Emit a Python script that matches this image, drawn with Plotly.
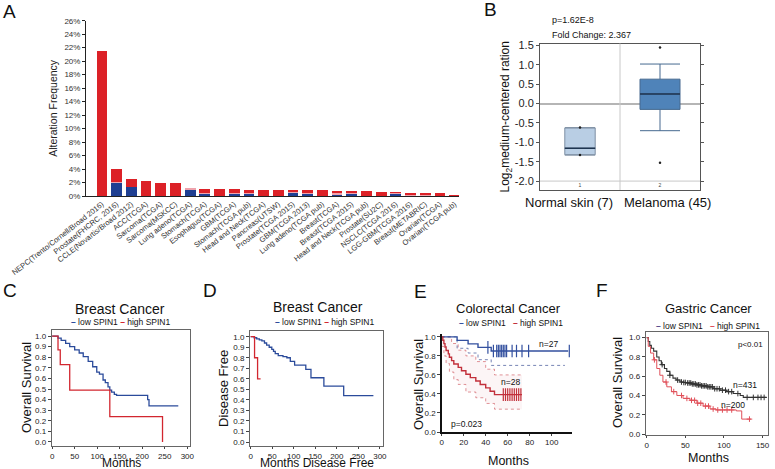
import numpy as np
import plotly.graph_objects as go

W, H = 775, 469
FONT = "Arial, Liberation Sans, sans-serif"


def px(x):
    return x / W


def py(y):
    return 1 - y / H


# ---------------- Panel A data ----------------
studies = [
    "NEPC(Trento/Cornell/Broad 2016)", "Prostate(FHCRC, 2016)", "CCLE(Novartis/Broad 2012)",
    "ACC(TCGA)", "Sarcoma(TCGA)", "Sarcoma(MSKCC)", "Lung adeno(TCGA)", "Stomach(TCGA)",
    "Esophagus(TCGA)", "GBM(TCGA)", "Stomach(TCGA pub)", "Head and Neck(TCGA)",
    "Pancreas(UTSW)", "Prostate(TCGA 2015)", "GBM(TCGA 2013)", "Lung adeno(TCGA pub)",
    "Breast(TCGA)", "Breast(TCGA 2015)", "Head and Neck(TCGA pub)", "Prostate(SU2C)",
    "NSCLC(TCGA 2016)", "LGG-GBM(TCGA 2016)", "Breast(METABRIC)", "Ovarian(TCGA)",
    "Ovarian(TCGA pub)",
]
deletion = [0, 2.0, 1.3, 0, 0, 0, 0.95, 0.35, 0, 0.3, 0.3, 0, 0, 0.5, 0.3, 0, 0.1, 0.3,
            0, 0, 0.3, 0, 0, 0, 0]
multiple = [0, 0.1, 0.1, 0, 0, 0, 0.25, 0.1, 0, 0.15, 0.1, 0, 0, 0.1, 0.1, 0, 0.3, 0.1,
            0, 0, 0.2, 0.15, 0.15, 0, 0]
amplification = [21.5, 1.9, 1.1, 2.2, 1.9, 1.9, 0.0, 0.6, 1.05, 0.55, 0.55, 0.9, 0.88,
                 0.28, 0.45, 0.82, 0.38, 0.35, 0.68, 0.62, 0.1, 0.35, 0.32, 0.42, 0.15]
a_ticks = list(range(0, 27, 2))

# ---------------- Panel B data ----------------
box_groups = ["Normal skin (7)", "Melanoma (45)"]
box_pos = [1, 2]
box_q1 = [-1.32, -0.15]
box_median = [-1.15, 0.25]
box_q3 = [-0.63, 0.63]
box_low = [-1.33, -0.70]
box_high = [-0.62, 1.02]
box_width = [0.38, 0.5]
box_points_x = [1, 1, 2, 2]
box_points_y = [-0.62, -1.33, 1.45, -1.53]
b_ticks = [-2.0, -1.5, -1.0, -0.5, 0.0, 0.5, 1.0, 1.5]

# ---------------- Panel C data (Breast, OS) ----------------
c_low_t = [0, 13, 20, 30, 39, 50, 60, 69, 80, 90, 99, 105, 113, 118, 124, 128, 132, 138,
           143, 210, 212, 215, 280]
c_low_s = [1.0, 0.98, 0.96, 0.93, 0.90, 0.87, 0.84, 0.805, 0.76, 0.71, 0.66, 0.64, 0.585,
           0.56, 0.52, 0.49, 0.47, 0.45, 0.44, 0.44, 0.40, 0.34, 0.34]
c_high_t = [0, 13, 18, 39, 128, 245]
c_high_s = [1.0, 0.87, 0.73, 0.49, 0.24, 0.0]

# ---------------- Panel D data (Breast, DFS) ----------------
d_low_t = [0, 8, 14, 20, 26, 32, 37, 43, 49, 53, 57, 64, 75, 84, 92, 102, 128, 140, 170,
           216, 285]
d_low_s = [1.0, 0.99, 0.98, 0.97, 0.96, 0.94, 0.92, 0.90, 0.88, 0.86, 0.84, 0.82, 0.81,
           0.80, 0.765, 0.73, 0.69, 0.61, 0.53, 0.44, 0.44]
d_high_t = [0, 9, 16, 23]
d_high_s = [1.0, 0.8, 0.6, 0.6]

# ---------------- Panel E data (Colorectal) ----------------
e_low_t = [0, 14, 24, 33, 45, 115]
e_low_s = [1.0, 0.963, 0.926, 0.889, 0.852, 0.852]
e_low_cens = [42, 47, 50, 51.5, 53, 54.5, 56, 57.5, 59, 64, 68, 73, 79, 116]
e_low_ci_t = [0, 14, 24, 33, 45, 112]
e_low_ci_s = [1.0, 0.88, 0.83, 0.76, 0.70, 0.70]
e_high_t = [0, 1, 2, 3, 4, 6, 7, 9, 11, 15, 18, 22, 26, 31, 35, 40, 44, 48, 73]
e_high_s = [1.0, 0.964, 0.929, 0.893, 0.857, 0.821, 0.786, 0.750, 0.714, 0.679, 0.643,
            0.607, 0.571, 0.536, 0.500, 0.464, 0.429, 0.393, 0.393]
e_high_cens = [56, 58, 60, 62, 64, 66, 68, 70, 72]
e_high_up_t = [0, 4, 9, 15, 22, 31, 40, 48, 73]
e_high_up_s = [1.0, 1.0, 0.93, 0.86, 0.80, 0.74, 0.66, 0.60, 0.60]
e_high_lo_t = [0, 2, 4, 7, 11, 15, 22, 31, 40, 48, 73]
e_high_lo_s = [0.9, 0.8, 0.72, 0.63, 0.55, 0.50, 0.42, 0.36, 0.30, 0.24, 0.24]

# ---------------- Panel F data (Gastric) ----------------
f_low_t = [0, 2, 4, 6, 9, 13, 16, 19, 23, 26, 30, 34, 38, 43, 48, 52, 58, 65, 71, 78,
           86, 95, 103, 112, 121, 125, 155]
f_low_s = [1.0, 0.96, 0.92, 0.89, 0.86, 0.80, 0.76, 0.72, 0.68, 0.65, 0.61, 0.58, 0.56,
           0.54, 0.535, 0.53, 0.52, 0.51, 0.50, 0.49, 0.47, 0.455, 0.44, 0.42, 0.40, 0.38,
           0.38]
f_low_cens = [20, 30, 40, 45, 48, 50, 53, 55, 57, 59, 61, 63, 65, 67, 69, 71, 73, 75, 77,
              79, 81, 83, 85, 88, 91, 94, 98, 102, 106, 110, 118, 130, 138, 144, 148, 152]
f_high_t = [0, 2, 5, 9, 13, 17, 21, 26, 32, 39, 47, 56, 65, 73, 82, 90, 116, 123, 135]
f_high_s = [1.0, 0.91, 0.84, 0.77, 0.68, 0.61, 0.54, 0.49, 0.44, 0.40, 0.37, 0.35, 0.32,
            0.29, 0.26, 0.25, 0.24, 0.155, 0.155]
f_high_cens = [10, 25, 35, 45, 52, 58, 62, 66, 70, 76, 80, 86, 92, 98, 104, 110, 133]

BLUE = "#2b4b9b"
RED = "#d2262f"

fig = go.Figure()

# ---------------- Panel A traces ----------------
fig.add_trace(go.Bar(x=studies, y=deletion, marker=dict(color="#1f3f92", line=dict(width=0)),
                     xaxis="x", yaxis="y", showlegend=False))
fig.add_trace(go.Bar(x=studies, y=multiple, marker=dict(color="#eea3ad", line=dict(width=0)),
                     xaxis="x", yaxis="y", showlegend=False))
fig.add_trace(go.Bar(x=studies, y=amplification, marker=dict(color="#dc2127", line=dict(width=0)),
                     xaxis="x", yaxis="y", showlegend=False))

# ---------------- Panel B traces ----------------
box_fill = ["#b9cee4", "#4f83b9"]
box_line = ["#7d8fa3", "#46698f"]
for i in range(2):
    fig.add_trace(go.Box(x=[box_pos[i]], q1=[box_q1[i]], median=[box_median[i]],
                         q3=[box_q3[i]], lowerfence=[box_low[i]], upperfence=[box_high[i]],
                         width=box_width[i], whiskerwidth=1, fillcolor=box_fill[i],
                         line=dict(color=box_line[i], width=1), boxpoints=False,
                         xaxis="x2", yaxis="y2", showlegend=False, hoverinfo="skip"))
    fig.add_trace(go.Scatter(x=[box_pos[i] - box_width[i] / 2, box_pos[i] + box_width[i] / 2],
                             y=[box_median[i], box_median[i]], mode="lines",
                             line=dict(color="#1e3550", width=1.5), xaxis="x2", yaxis="y2",
                             showlegend=False, hoverinfo="skip"))
fig.add_trace(go.Scatter(x=box_points_x, y=box_points_y, mode="markers",
                         marker=dict(color="#222", size=2.5), xaxis="x2", yaxis="y2",
                         showlegend=False))


def step_at(ts, ss, q):
    idx = np.searchsorted(np.array(ts), np.array(q), side="right") - 1
    return list(np.array(ss)[idx])


def km(t, s, color, xa, ya, width=1.3, dash=None):
    fig.add_trace(go.Scatter(x=t, y=s, mode="lines", line=dict(color=color, width=width,
                                                                 shape="hv", dash=dash),
                             xaxis=xa, yaxis=ya, showlegend=False, hoverinfo="skip"))


# C
km(c_low_t, c_low_s, BLUE, "x3", "y3")
km(c_high_t, c_high_s, RED, "x3", "y3")
# D
km(d_low_t, d_low_s, BLUE, "x4", "y4")
km(d_high_t, d_high_s, RED, "x4", "y4")
# E
fig.add_trace(go.Scatter(x=e_high_lo_t, y=e_high_lo_s, mode="lines",
                         line=dict(color="rgba(200,60,70,0.55)", width=1, shape="hv", dash="dot"),
                         xaxis="x5", yaxis="y5", showlegend=False))
fig.add_trace(go.Scatter(x=e_high_up_t, y=e_high_up_s, mode="lines",
                         line=dict(color="rgba(200,60,70,0.55)", width=1, shape="hv", dash="dot"),
                         fill="tonexty", fillcolor="rgba(220,130,140,0.08)",
                         xaxis="x5", yaxis="y5", showlegend=False))
km(e_low_ci_t, e_low_ci_s, "rgba(60,80,150,0.7)", "x5", "y5", width=1, dash="dot")
km(e_low_t, e_low_s, "#33509f", "x5", "y5", width=1.4)
km(e_high_t, e_high_s, "#c2303b", "x5", "y5", width=1.4)
fig.add_trace(go.Scatter(x=e_low_cens, y=step_at(e_low_t, e_low_s, e_low_cens), mode="markers",
                         marker=dict(symbol="line-ns", size=9, line=dict(color="#33509f", width=1.2)),
                         xaxis="x5", yaxis="y5", showlegend=False))
fig.add_trace(go.Scatter(x=e_high_cens, y=step_at(e_high_t, e_high_s, e_high_cens), mode="markers",
                         marker=dict(symbol="line-ns", size=9, line=dict(color="#c2303b", width=1.2)),
                         xaxis="x5", yaxis="y5", showlegend=False))
# F
km(f_low_t, f_low_s, "#333333", "x6", "y6", width=1.1)
km(f_high_t, f_high_s, "#e0505a", "x6", "y6", width=1)
fig.add_trace(go.Scatter(x=f_low_cens, y=step_at(f_low_t, f_low_s, f_low_cens), mode="markers",
                         marker=dict(symbol="cross-thin", size=4, line=dict(color="#333", width=1)),
                         xaxis="x6", yaxis="y6", showlegend=False))
fig.add_trace(go.Scatter(x=f_high_cens, y=step_at(f_high_t, f_high_s, f_high_cens), mode="markers",
                         marker=dict(symbol="cross-thin", size=4, line=dict(color="#e0505a", width=1)),
                         xaxis="x6", yaxis="y6", showlegend=False))

# ---------------- Axes ----------------
tick_font = dict(family=FONT, size=8, color="#222")
layout_axes = {}

layout_axes["xaxis"] = dict(domain=[px(86), px(459)], anchor="y", range=[-1.09, 24.3],
                            tickangle=-38, tickfont=dict(family=FONT, size=7.5, color="#333"),
                            showline=True, linecolor="#222", linewidth=1, ticks="",
                            showgrid=False, zeroline=False, automargin=False)
layout_axes["yaxis"] = dict(domain=[py(196), py(20.7)], anchor="x", range=[0, 26],
                            tickvals=a_ticks, ticktext=[f"{v}%" for v in a_ticks],
                            tickfont=dict(family=FONT, size=8, color="#333"),
                            showline=True, linecolor="#222", linewidth=1, ticks="outside",
                            ticklen=3, tickcolor="#222", showgrid=False, zeroline=False,
                            automargin=False,
                            title=dict(text="Alteration Frequency",
                                       font=dict(family=FONT, size=10.5, color="#222"),
                                       standoff=4))

layout_axes["xaxis2"] = dict(domain=[px(540), px(700)], anchor="y2", range=[0.5, 2.5],
                             tickvals=box_pos, ticktext=["1", "2"], ticklabelposition="inside",
                             tickfont=dict(family=FONT, size=5, color="#444"), ticks="",
                             showline=True, mirror=True, linecolor="#555", linewidth=1,
                             showgrid=False, zeroline=False, automargin=False)
layout_axes["yaxis2"] = dict(domain=[py(190), py(43.5)], anchor="x2", range=[-2.23, 1.55],
                             tickvals=b_ticks, ticktext=[f"{v:.1f}" for v in b_ticks],
                             tickfont=dict(family=FONT, size=11, color="#222"),
                             ticks="outside", ticklen=3, tickcolor="#555", showline=True,
                             mirror="ticks", linecolor="#555", linewidth=1, showgrid=False,
                             zeroline=True, zerolinecolor="#b5b5b5", zerolinewidth=2,
                             automargin=False,
                             title=dict(text="Log<sub>2</sub>medium-centered ration",
                                        font=dict(family=FONT, size=12, color="#111"),
                                        standoff=2))


def km_axes(n, xdom, ydom, xr, yr, xdt, ydt, frame=True, yfmt=".1f"):
    line = dict(showline=True, linecolor="#666" if frame else "#111",
                linewidth=1 if frame else 1.5, mirror=frame)
    layout_axes[f"xaxis{n}"] = dict(domain=[px(xdom[0]), px(xdom[1])], anchor=f"y{n}",
                                    range=xr, dtick=xdt, tick0=0, ticks="outside", ticklen=2,
                                    tickcolor="#444", tickfont=tick_font, showgrid=False,
                                    zeroline=False, automargin=False, **line)
    layout_axes[f"yaxis{n}"] = dict(domain=[py(ydom[0]), py(ydom[1])], anchor=f"x{n}",
                                    range=yr, dtick=ydt, tick0=0, tickformat=yfmt,
                                    ticks="outside", ticklen=3, tickcolor="#444",
                                    tickfont=tick_font, showgrid=False, zeroline=False,
                                    automargin=False, **line)


km_axes(3, (51.7, 190), (446, 330), [-1, 306], [-0.038, 1.057], 50, 0.1)
km_axes(4, (250, 383.3), (446, 330.7), [-1.6, 308], [-0.038, 1.057], 50, 0.1)
km_axes(5, (441.7, 571.5), (432, 334), [0, 118], [0, 1.03], 20, 0.2, frame=False)
km_axes(6, (645.7, 768), (435, 331.7), [-1.3, 157], [-0.01, 1.062], 50, 0.2)

# ---------------- Annotations ----------------
ann = []


def text(x, y, s, size, xanchor="center", yanchor="middle", color="#111", angle=0):
    ann.append(dict(x=px(x), y=py(y), xref="paper", yref="paper", text=s, showarrow=False,
                    xanchor=xanchor, yanchor=yanchor, textangle=angle,
                    font=dict(family=FONT, size=size, color=color)))


for lab, x, y in [("A", 1, 11), ("B", 482, 10), ("C", 1, 290), ("D", 201, 290),
                  ("E", 412, 291), ("F", 594, 290)]:
    text(x, y, lab, 19, xanchor="left")

# B texts
text(550, 20, "p=1.62E-8", 9, xanchor="left")
text(550, 35, "Fold Change: 2.367", 9, xanchor="left")
text(569, 202, box_groups[0], 13)
text(667, 202, box_groups[1], 13)


def legend_txt(x, y, c1, c2, size=8.5, gap="  "):
    s = (f"<span style='color:{c1}'><b>–</b></span> low SPIN1{gap}"
         f"<span style='color:{c2}'><b>–</b></span> high SPIN1")
    text(x, y, s, size, color="#111")


# C
text(120, 309, "Breast Cancer", 14)
legend_txt(121, 322, BLUE, RED, gap=" ")
text(26, 388, "Overall Survival", 13, angle=-90)
text(121, 463, "Months", 12)
# D
text(318, 307, "Breast Cancer", 14)
legend_txt(325, 322, BLUE, RED, gap=" ")
text(223, 388, "Disease Free", 13, angle=-90)
text(317, 463, "Months Disease Free", 12)
# E
text(508, 308, "Colorectal Cancer", 13)
legend_txt(511, 323, "#33509f", "#c2303b", gap="   ")
text(418, 384, "Overall Survival", 13, angle=-90)
text(508, 461, "Months", 12.5)
text(548, 344, "n=27", 8.5)
text(511, 382, "n=28", 8.5)
text(466, 424, "p=0.023", 8.5)
# F
text(708, 308, "Gastric Cancer", 13)
legend_txt(708, 326, "#5a4f8f", "#e0505a", gap="   ")
text(617, 383, "Overall Survival", 13, angle=-90)
text(708, 458, "Months", 12.5)
text(750, 344, "p<0.01", 8)
text(745, 385, "n=431", 8.5)
text(733, 405, "n=200", 8.5)

shapes = [
    dict(type="line", xref="x2", yref="y2 domain", x0=1.5, x1=1.5, y0=0, y1=1,
         line=dict(color="#c8c8c8", width=1)),
    dict(type="line", xref="x2 domain", yref="y2", x0=0, x1=1, y0=b_ticks[0], y1=b_ticks[0],
         line=dict(color="#c8c8c8", width=1)),
]

fig.update_layout(
    template="none",
    width=W, height=H, margin=dict(l=0, r=0, t=0, b=0, pad=0, autoexpand=False),
    paper_bgcolor="white", plot_bgcolor="white",
    barmode="stack", bargap=0.27, boxmode="overlay",
    font=dict(family=FONT, color="#111"),
    annotations=ann, shapes=shapes, showlegend=False, hovermode=False,
    **layout_axes,
)

fig.write_html("out.html", config={"displayModeBar": False, "staticPlot": True},
               post_script="document.body.style.margin='0';document.body.style.padding='0';"
                           "document.body.style.overflow='hidden';")
